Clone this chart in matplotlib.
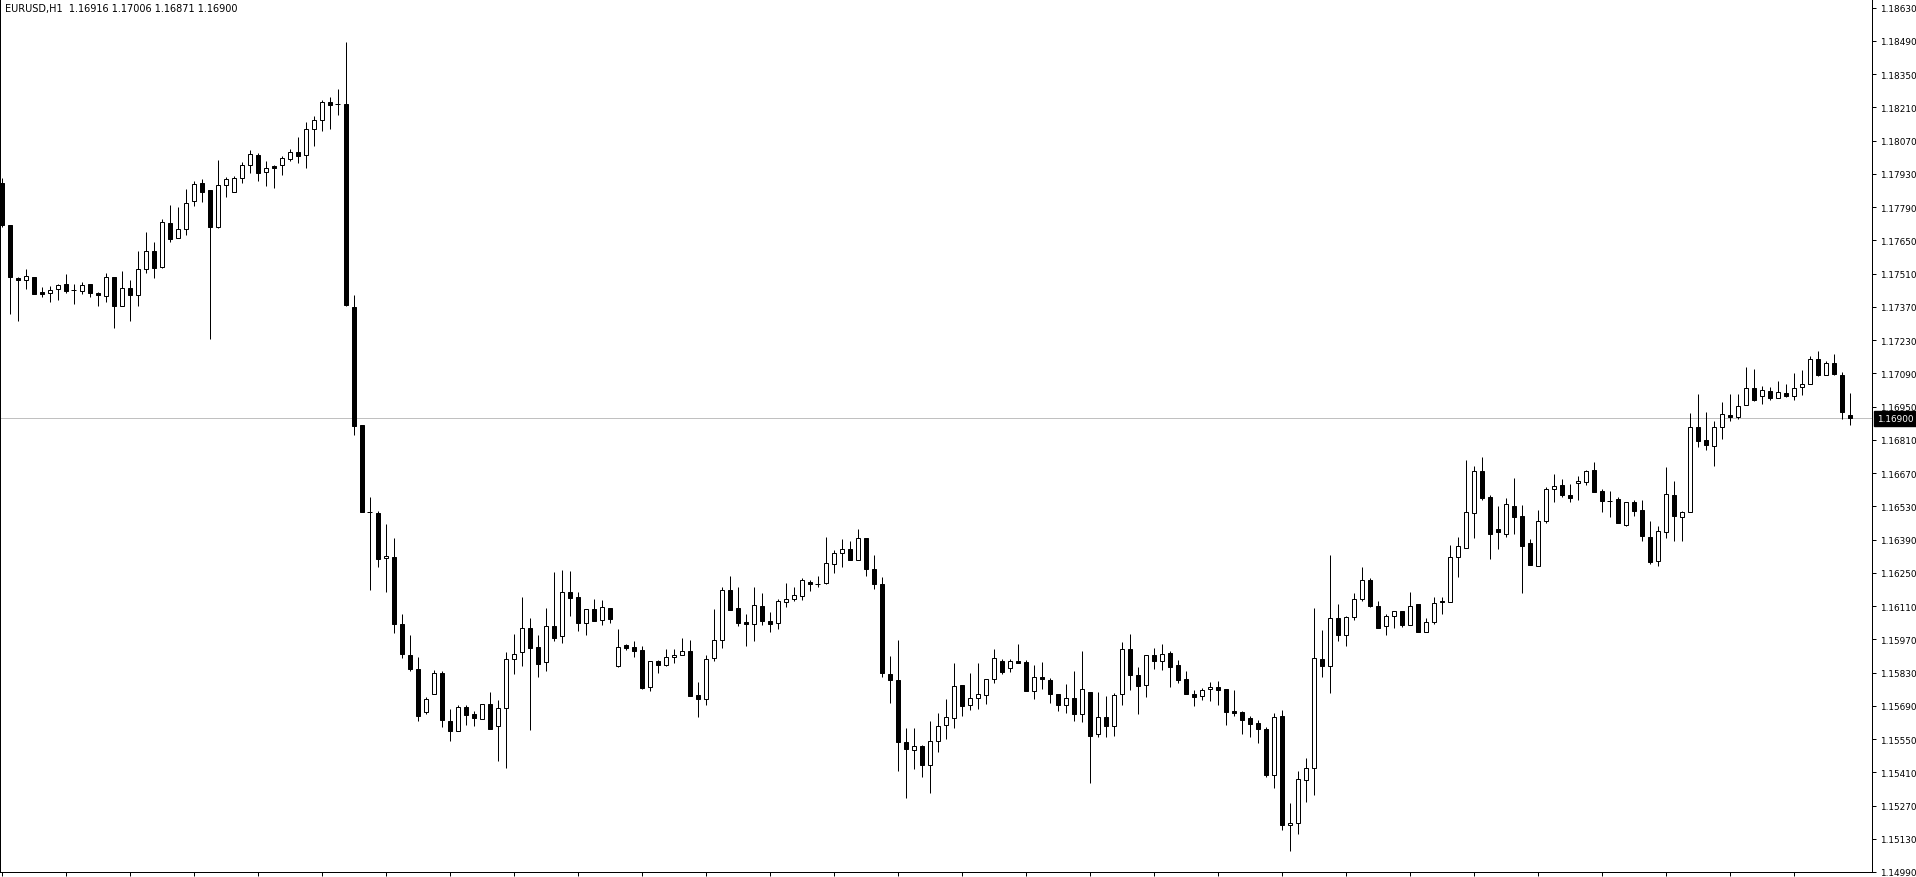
import matplotlib
matplotlib.use("Agg")
import matplotlib.pyplot as plt
import numpy as np

# EURUSD H1 candles (oldest -> newest)
symbol = "EURUSD,H1"

opens = [
    1.17891, 1.17715, 1.17491, 1.17483, 1.17496, 1.17432, 1.17428, 1.17445, 1.17466, 1.17441,
    1.17437, 1.17466, 1.17428, 1.17416, 1.17496, 1.17374, 1.17449, 1.17420, 1.17529, 1.17605,
    1.17538, 1.17723, 1.17660, 1.17698, 1.17816, 1.17891, 1.17862, 1.17706, 1.17883, 1.17854,
    1.17912, 1.17967, 1.18009, 1.17938, 1.17963, 1.17967, 1.17992, 1.18022, 1.18009, 1.18119,
    1.18157, 1.18232, 1.18224, 1.18224, 1.17369, 1.16873, 1.16506, 1.16502, 1.16313, 1.16317,
    1.16035, 1.15904, 1.15845, 1.15664, 1.15740, 1.15829, 1.15626, 1.15584, 1.15685, 1.15656,
    1.15635, 1.15698, 1.15605, 1.15681, 1.15887, 1.15917, 1.16018, 1.15938, 1.15875, 1.16026,
    1.15984, 1.16170, 1.16148, 1.16039, 1.16098, 1.16052, 1.16102, 1.15858, 1.15946, 1.15938,
    1.15925, 1.15770, 1.15879, 1.15862, 1.15896, 1.15904, 1.15921, 1.15736, 1.15719, 1.15892,
    1.15967, 1.16178, 1.16102, 1.16043, 1.16035, 1.16111, 1.16047, 1.16039, 1.16127, 1.16140,
    1.16153, 1.16212, 1.16203, 1.16207, 1.16287, 1.16334, 1.16351, 1.16304, 1.16397, 1.16266,
    1.16203, 1.15824, 1.15799, 1.15538, 1.15504, 1.15521, 1.15441, 1.15542, 1.15610, 1.15639,
    1.15778, 1.15694, 1.15723, 1.15736, 1.15803, 1.15879, 1.15850, 1.15879, 1.15875, 1.15753,
    1.15812, 1.15799, 1.15740, 1.15694, 1.15723, 1.15656, 1.15749, 1.15572, 1.15643, 1.15605,
    1.15740, 1.15930, 1.15820, 1.15778, 1.15904, 1.15879, 1.15913, 1.15862, 1.15803, 1.15740,
    1.15732, 1.15761, 1.15770, 1.15761, 1.15669, 1.15664, 1.15639, 1.15618, 1.15593, 1.15399,
    1.15647, 1.15189, 1.15197, 1.15378, 1.15429, 1.15887, 1.15858, 1.16060, 1.15988, 1.16064,
    1.16140, 1.16220, 1.16111, 1.16026, 1.16068, 1.16090, 1.16031, 1.16119, 1.16001, 1.16043,
    1.16132, 1.16127, 1.16317, 1.16355, 1.16502, 1.16679, 1.16569, 1.16435, 1.16414, 1.16532,
    1.16489, 1.16376, 1.16279, 1.16468, 1.16603, 1.16620, 1.16578, 1.16628, 1.16633, 1.16683,
    1.16595, 1.16553, 1.16561, 1.16452, 1.16548, 1.16515, 1.16401, 1.16300, 1.16422, 1.16578,
    1.16485, 1.16506, 1.16864, 1.16809, 1.16784, 1.16864, 1.16915, 1.16906, 1.16957, 1.17028,
    1.16995, 1.17016, 1.16986, 1.17007, 1.16995, 1.17033, 1.17045, 1.17150, 1.17083, 1.17134,
    1.17083, 1.16916,
]

highs = [
    1.17912, 1.17715, 1.17496, 1.17529, 1.17496, 1.17454, 1.17458, 1.17466, 1.17508, 1.17466,
    1.17475, 1.17466, 1.17432, 1.17513, 1.17496, 1.17521, 1.17483, 1.17605, 1.17685, 1.17643,
    1.17740, 1.17799, 1.17790, 1.17866, 1.17900, 1.17908, 1.17862, 1.17988, 1.17917, 1.17921,
    1.17981, 1.18030, 1.18018, 1.17984, 1.17967, 1.18005, 1.18035, 1.18085, 1.18148, 1.18173,
    1.18241, 1.18253, 1.18287, 1.18485, 1.17420, 1.16873, 1.16569, 1.16510, 1.16456, 1.16397,
    1.16077, 1.15988, 1.15896, 1.15727, 1.15841, 1.15837, 1.15677, 1.15694, 1.15694, 1.15669,
    1.15698, 1.15749, 1.15715, 1.15917, 1.15993, 1.16148, 1.16060, 1.15988, 1.16102, 1.16254,
    1.16262, 1.16258, 1.16170, 1.16098, 1.16140, 1.16136, 1.16102, 1.16014, 1.15951, 1.15963,
    1.15942, 1.15879, 1.15883, 1.15930, 1.15930, 1.15976, 1.15967, 1.15791, 1.15904, 1.16098,
    1.16191, 1.16237, 1.16191, 1.16077, 1.16191, 1.16165, 1.16085, 1.16140, 1.16207, 1.16191,
    1.16228, 1.16220, 1.16237, 1.16401, 1.16346, 1.16393, 1.16384, 1.16435, 1.16397, 1.16325,
    1.16233, 1.15900, 1.15967, 1.15597, 1.15597, 1.15525, 1.15626, 1.15660, 1.15719, 1.15871,
    1.15778, 1.15829, 1.15871, 1.15803, 1.15930, 1.15887, 1.15887, 1.15951, 1.15883, 1.15862,
    1.15875, 1.15808, 1.15740, 1.15782, 1.15837, 1.15921, 1.15749, 1.15749, 1.15732, 1.15744,
    1.15959, 1.15993, 1.15854, 1.15904, 1.15934, 1.15951, 1.15921, 1.15883, 1.15837, 1.15757,
    1.15765, 1.15791, 1.15795, 1.15761, 1.15757, 1.15669, 1.15647, 1.15631, 1.15601, 1.15660,
    1.15673, 1.15281, 1.15416, 1.15471, 1.16102, 1.16010, 1.16325, 1.16119, 1.16068, 1.16165,
    1.16275, 1.16228, 1.16132, 1.16077, 1.16090, 1.16090, 1.16170, 1.16119, 1.16060, 1.16148,
    1.16148, 1.16367, 1.16401, 1.16725, 1.16700, 1.16738, 1.16578, 1.16532, 1.16565, 1.16649,
    1.16536, 1.16393, 1.16515, 1.16612, 1.16666, 1.16645, 1.16624, 1.16658, 1.16683, 1.16717,
    1.16603, 1.16595, 1.16569, 1.16548, 1.16557, 1.16557, 1.16468, 1.16447, 1.16696, 1.16637,
    1.16510, 1.16923, 1.17003, 1.16927, 1.16889, 1.16969, 1.17003, 1.17003, 1.17117, 1.17108,
    1.17037, 1.17033, 1.17058, 1.17045, 1.17092, 1.17104, 1.17163, 1.17184, 1.17142, 1.17172,
    1.17096, 1.17006,
]

lows = [
    1.17706, 1.17340, 1.17310, 1.17445, 1.17424, 1.17411, 1.17390, 1.17399, 1.17428, 1.17382,
    1.17424, 1.17411, 1.17374, 1.17390, 1.17281, 1.17374, 1.17310, 1.17374, 1.17513, 1.17491,
    1.17533, 1.17643, 1.17660, 1.17672, 1.17795, 1.17811, 1.17235, 1.17702, 1.17832, 1.17854,
    1.17891, 1.17934, 1.17900, 1.17879, 1.17870, 1.17925, 1.17984, 1.17976, 1.17955, 1.18047,
    1.18110, 1.18119, 1.18178, 1.17374, 1.16830, 1.16506, 1.16178, 1.16275, 1.16170, 1.15997,
    1.15892, 1.15837, 1.15626, 1.15656, 1.15740, 1.15601, 1.15542, 1.15584, 1.15610, 1.15605,
    1.15635, 1.15593, 1.15458, 1.15429, 1.15824, 1.15858, 1.15589, 1.15812, 1.15837, 1.15963,
    1.15955, 1.16068, 1.16005, 1.15988, 1.16047, 1.16031, 1.16039, 1.15854, 1.15925, 1.15896,
    1.15761, 1.15753, 1.15829, 1.15858, 1.15871, 1.15904, 1.15732, 1.15643, 1.15694, 1.15879,
    1.15934, 1.16094, 1.16026, 1.15942, 1.15963, 1.16031, 1.16001, 1.16014, 1.16106, 1.16132,
    1.16136, 1.16174, 1.16191, 1.16203, 1.16250, 1.16275, 1.16304, 1.16304, 1.16237, 1.16182,
    1.15812, 1.15702, 1.15416, 1.15302, 1.15424, 1.15391, 1.15323, 1.15496, 1.15551, 1.15597,
    1.15647, 1.15673, 1.15677, 1.15698, 1.15786, 1.15824, 1.15833, 1.15871, 1.15753, 1.15719,
    1.15761, 1.15702, 1.15669, 1.15660, 1.15626, 1.15622, 1.15365, 1.15559, 1.15559, 1.15563,
    1.15694, 1.15757, 1.15656, 1.15727, 1.15845, 1.15841, 1.15770, 1.15786, 1.15740, 1.15690,
    1.15715, 1.15711, 1.15694, 1.15610, 1.15647, 1.15572, 1.15559, 1.15534, 1.15391, 1.15344,
    1.15168, 1.15079, 1.15151, 1.15285, 1.15315, 1.15812, 1.15744, 1.15963, 1.15942, 1.16052,
    1.16132, 1.16106, 1.16018, 1.15988, 1.16018, 1.16022, 1.16031, 1.16001, 1.16001, 1.16035,
    1.16077, 1.16127, 1.16233, 1.16355, 1.16397, 1.16557, 1.16308, 1.16351, 1.16401, 1.16414,
    1.16165, 1.16283, 1.16279, 1.16460, 1.16548, 1.16569, 1.16548, 1.16557, 1.16620, 1.16591,
    1.16506, 1.16485, 1.16460, 1.16447, 1.16489, 1.16384, 1.16287, 1.16279, 1.16397, 1.16384,
    1.16384, 1.16506, 1.16780, 1.16767, 1.16700, 1.16814, 1.16889, 1.16898, 1.16957, 1.16974,
    1.16961, 1.16978, 1.16986, 1.16990, 1.16978, 1.16999, 1.17045, 1.17079, 1.17083, 1.17083,
    1.16898, 1.16871,
]

closes = [
    1.17715, 1.17496, 1.17483, 1.17500, 1.17424, 1.17424, 1.17441, 1.17462, 1.17437, 1.17441,
    1.17462, 1.17428, 1.17420, 1.17496, 1.17374, 1.17449, 1.17420, 1.17529, 1.17605, 1.17533,
    1.17727, 1.17656, 1.17698, 1.17807, 1.17887, 1.17854, 1.17706, 1.17883, 1.17908, 1.17912,
    1.17967, 1.18013, 1.17934, 1.17955, 1.17955, 1.17997, 1.18022, 1.18005, 1.18119, 1.18157,
    1.18232, 1.18220, 1.18224, 1.17378, 1.16869, 1.16506, 1.16506, 1.16308, 1.16321, 1.16035,
    1.15908, 1.15845, 1.15647, 1.15719, 1.15829, 1.15631, 1.15584, 1.15685, 1.15652, 1.15639,
    1.15698, 1.15593, 1.15681, 1.15887, 1.15908, 1.16018, 1.15934, 1.15866, 1.16026, 1.15976,
    1.16170, 1.16144, 1.16039, 1.16098, 1.16047, 1.16106, 1.16056, 1.15938, 1.15934, 1.15921,
    1.15765, 1.15879, 1.15862, 1.15896, 1.15904, 1.15921, 1.15732, 1.15719, 1.15887, 1.15967,
    1.16178, 1.16094, 1.16039, 1.16035, 1.16115, 1.16047, 1.16035, 1.16132, 1.16140, 1.16157,
    1.16220, 1.16203, 1.16203, 1.16292, 1.16334, 1.16351, 1.16304, 1.16397, 1.16266, 1.16203,
    1.15829, 1.15799, 1.15538, 1.15509, 1.15521, 1.15441, 1.15542, 1.15605, 1.15643, 1.15774,
    1.15690, 1.15723, 1.15740, 1.15803, 1.15892, 1.15833, 1.15879, 1.15871, 1.15753, 1.15812,
    1.15803, 1.15740, 1.15694, 1.15723, 1.15656, 1.15761, 1.15563, 1.15643, 1.15605, 1.15736,
    1.15930, 1.15820, 1.15774, 1.15904, 1.15879, 1.15908, 1.15854, 1.15799, 1.15740, 1.15727,
    1.15757, 1.15770, 1.15757, 1.15664, 1.15660, 1.15631, 1.15614, 1.15593, 1.15399, 1.15643,
    1.15189, 1.15197, 1.15382, 1.15429, 1.15892, 1.15858, 1.16060, 1.15988, 1.16064, 1.16140,
    1.16220, 1.16111, 1.16018, 1.16068, 1.16090, 1.16031, 1.16111, 1.16001, 1.16043, 1.16123,
    1.16127, 1.16317, 1.16363, 1.16506, 1.16679, 1.16565, 1.16414, 1.16422, 1.16540, 1.16485,
    1.16363, 1.16283, 1.16468, 1.16603, 1.16616, 1.16578, 1.16565, 1.16637, 1.16679, 1.16591,
    1.16553, 1.16553, 1.16460, 1.16548, 1.16510, 1.16405, 1.16296, 1.16426, 1.16582, 1.16489,
    1.16506, 1.16864, 1.16805, 1.16788, 1.16864, 1.16919, 1.16906, 1.16953, 1.17028, 1.16978,
    1.17020, 1.16986, 1.17011, 1.16995, 1.17028, 1.17045, 1.17150, 1.17083, 1.17134, 1.17087,
    1.16927, 1.16900,
]

# price scale labels on the right
price_ticks = [
    1.18630, 1.18490, 1.18350, 1.18210, 1.18070, 1.17930, 1.17790, 1.17650, 1.17510,
    1.17370, 1.17230, 1.17090, 1.16950, 1.16810, 1.16670, 1.16530, 1.16390, 1.16250,
    1.16110, 1.15970, 1.15830, 1.15690, 1.15550, 1.15410, 1.15270, 1.15130, 1.14990,
]
last_price = 1.16900

W, H = 1916, 878
fig = plt.figure(figsize=(W / 100, H / 100), dpi=100)
fig.patch.set_facecolor("white")
ax = fig.add_axes([0, 5 / H, 1872 / W, 873 / H])

o = np.array(opens)
h = np.array(highs)
l = np.array(lows)
c = np.array(closes)
x = np.arange(len(o))

px = 0.72  # one pixel in points

# wicks
ax.vlines(x, l, h, color="black", linewidth=px, zorder=1)

# bodies: white for up bars, black for down bars
up = c > o
down = c < o
flat = c == o
ax.bar(x[up], (c - o)[up], bottom=o[up], width=0.5, color="white",
       edgecolor="black", linewidth=px, zorder=2)
ax.bar(x[down], (c - o)[down], bottom=o[down], width=0.5, color="black",
       edgecolor="black", linewidth=px, zorder=2)
ax.hlines(o[flat], x[flat] - 0.31, x[flat] + 0.31, color="black", linewidth=px, zorder=2)

# current price line
ax.axhline(last_price, color="#c0c0c0", linewidth=px, zorder=0)

ax.set_xlim(-0.1875, 233.81)
ax.set_ylim(1.14991, 1.18666)

ax.yaxis.tick_right()
ax.set_yticks(price_ticks)
ax.set_yticklabels([f"{v:.5f}" for v in price_ticks])
ax.set_xticks(np.arange(0, len(o), 8))
ax.set_xticklabels([])
ax.tick_params(axis="both", direction="out", length=3, width=px, color="black",
               labelsize=6.4, pad=3)
for s in ax.spines.values():
    s.set_linewidth(px)
    s.set_color("black")

# price tag for the last close
ax.annotate(f"{last_price:.5f}", xy=(1, last_price), xycoords=ax.get_yaxis_transform(),
            xytext=(3.5, 0), textcoords="offset points", va="center", ha="left",
            fontsize=6.4, color="white",
            bbox=dict(boxstyle="square,pad=0.3", facecolor="black", edgecolor="black"))

title = f"{symbol}  {opens[-1]:.5f} {highs[-1]:.5f} {lows[-1]:.5f} {closes[-1]:.5f}"
fig.text(5 / W, 1 - 9 / H, title, fontsize=7, va="center", ha="left", color="black")

fig.savefig("out.png", dpi=100, facecolor="white")
